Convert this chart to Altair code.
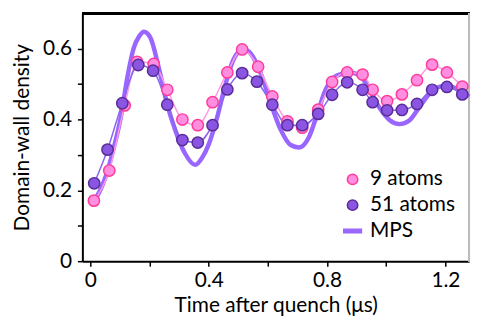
import altair as alt
import pandas as pd

# 9 atoms (experiment)
t9 = [0.012, 0.064, 0.116, 0.158, 0.214, 0.26, 0.311, 0.363, 0.413, 0.463, 0.513, 0.567, 0.615,
      0.666, 0.716, 0.77, 0.817, 0.868, 0.92, 0.954, 1.003, 1.053, 1.104, 1.155, 1.205, 1.257]
y9 = [0.171, 0.256, 0.44, 0.563, 0.557, 0.484, 0.40, 0.384, 0.449, 0.533, 0.598, 0.549, 0.465,
      0.395, 0.377, 0.428, 0.506, 0.533, 0.527, 0.484, 0.452, 0.471, 0.511, 0.555, 0.533, 0.493]

# 51 atoms (experiment)
t51 = [0.013, 0.058, 0.108, 0.162, 0.212, 0.26, 0.311, 0.363, 0.413, 0.463, 0.513, 0.563, 0.615,
       0.666, 0.716, 0.77, 0.817, 0.868, 0.92, 0.954, 1.003, 1.053, 1.104, 1.155, 1.205, 1.257]
y51 = [0.22, 0.315, 0.446, 0.554, 0.538, 0.442, 0.342, 0.335, 0.384, 0.485, 0.531, 0.507, 0.442,
       0.384, 0.384, 0.416, 0.47, 0.505, 0.484, 0.449, 0.426, 0.427, 0.444, 0.484, 0.492, 0.471]

# MPS simulation
tm = [0.0, 0.013, 0.03, 0.052, 0.08, 0.103, 0.125, 0.147, 0.165, 0.181, 0.203, 0.231, 0.259, 0.287,
      0.32, 0.354, 0.38, 0.4, 0.426, 0.454, 0.482, 0.51, 0.53, 0.543, 0.577, 0.61, 0.644, 0.677,
      0.705, 0.739, 0.767, 0.794, 0.833, 0.878, 0.911, 0.945, 0.979, 1.012, 1.045, 1.079, 1.112,
      1.151, 1.19, 1.23, 1.28]
ym = [0.165, 0.172, 0.195, 0.239, 0.323, 0.407, 0.519, 0.603, 0.635, 0.648, 0.631, 0.547, 0.445, 0.37,
      0.304, 0.272, 0.295, 0.33, 0.398, 0.491, 0.566, 0.594, 0.595, 0.585, 0.528, 0.445, 0.37, 0.328,
      0.321, 0.351, 0.416, 0.482, 0.524, 0.533, 0.524, 0.482, 0.431, 0.398, 0.387, 0.398, 0.435,
      0.477, 0.494, 0.49, 0.465]

series = ["9 atoms", "51 atoms", "MPS"]
fills = ["#ff8ee0", "#8a55e2", "#9966ff"]
strokes = ["#ff3b9a", "#5a2d96", "#9966ff"]
mps_path = "M-1.7,-0.35H1.7V0.35H-1.7Z"

d9 = pd.DataFrame({"t": t9, "y": y9, "series": "9 atoms", "o": range(len(t9))})
d51 = pd.DataFrame({"t": t51, "y": y51, "series": "51 atoms", "o": range(len(t51))})
dm = pd.DataFrame({"t": tm, "y": ym, "series": "MPS", "o": range(len(tm))})

FONT = "Lato"

xs = alt.Scale(domain=[-0.027, 1.28], nice=False, zero=False)
ys = alt.Scale(domain=[0, 0.7], nice=False)

xax = alt.Axis(values=[0, 0.2, 0.4, 0.6, 0.8, 1.0, 1.2],
               labelExpr="round(datum.value*10)%4==0 ? (datum.value==0 ? '0' : format(datum.value,'.1f')) : ''",
               title="Time after quench (μs)", grid=False, tickSize=5, domainWidth=2, tickWidth=1.5,
               domainColor="black", tickColor="black", labelFontSize=21, titleFontSize=21,
               labelColor="black", titleColor="black", titleFontWeight="normal", labelPadding=4,
               titlePadding=4, labelFont=FONT, titleFont=FONT)
yax = alt.Axis(values=[0, 0.1, 0.2, 0.3, 0.4, 0.5, 0.6],
               labelExpr="round(datum.value*10)%2==0 ? (datum.value==0 ? '0' : format(datum.value,'.1f')) : ''",
               title="Domain-wall density", grid=False, tickSize=5, domainWidth=2, tickWidth=1.5,
               domainColor="black", tickColor="black", labelFontSize=21, titleFontSize=21,
               labelColor="black", titleColor="black", titleFontWeight="normal", labelPadding=6,
               titlePadding=10, labelFont=FONT, titleFont=FONT)

X = alt.X("t:Q", scale=xs, axis=xax)
Y = alt.Y("y:Q", scale=ys, axis=yax)

fill_scale = alt.Scale(domain=series, range=fills)
stroke_scale = alt.Scale(domain=series, range=strokes)
shape_scale = alt.Scale(domain=series, range=["circle", "circle", mps_path])

legend = alt.Legend(title=None, orient="none", legendX=262, legendY=157, labelFontSize=21,
                    labelFont=FONT, labelColor="black", symbolSize=110, rowPadding=4,
                    labelOffset=7, symbolStrokeWidth=1.5, padding=0)

mps = alt.Chart(dm).mark_line(strokeWidth=4.5, interpolate="monotone").encode(
    x=X, y=Y, order="o:Q",
    stroke=alt.Stroke("series:N", scale=stroke_scale, legend=legend))

line9 = alt.Chart(d9).mark_line(strokeWidth=1.5, color="#ff99e6", interpolate="monotone").encode(
    x=X, y=Y, order="o:Q")
line51 = alt.Chart(d51).mark_line(strokeWidth=1.5, color="#8a66f0", interpolate="monotone").encode(
    x=X, y=Y, order="o:Q")

pts = alt.Chart(pd.concat([d9, d51])).mark_point(filled=True, size=130, strokeWidth=1.5, opacity=1).encode(
    x=X, y=Y,
    fill=alt.Fill("series:N", scale=fill_scale, legend=legend),
    stroke=alt.Stroke("series:N", scale=stroke_scale, legend=legend),
    shape=alt.Shape("series:N", scale=shape_scale, legend=legend),
    order=alt.Order("series:N", sort="descending"))

top = alt.Chart(dm).mark_rule(color="black", strokeWidth=2).encode(
    y=alt.value(0), x=alt.value(0), x2=alt.value(390))
right = alt.Chart(dm).mark_rule(color="#bbbbbb", strokeWidth=1).encode(
    x=alt.value(390), y=alt.value(0), y2=alt.value(250))

chart = alt.layer(top, right, mps, line9, line51, pts).properties(
    width=390, height=250,
    autosize=alt.AutoSizeParams(type="none"),
    padding={"left": 75, "top": 4, "right": 10, "bottom": 60},
).configure_view(stroke=None).configure(background="white")

chart.save("out.html", embed_options={"renderer": "svg", "actions": False})
